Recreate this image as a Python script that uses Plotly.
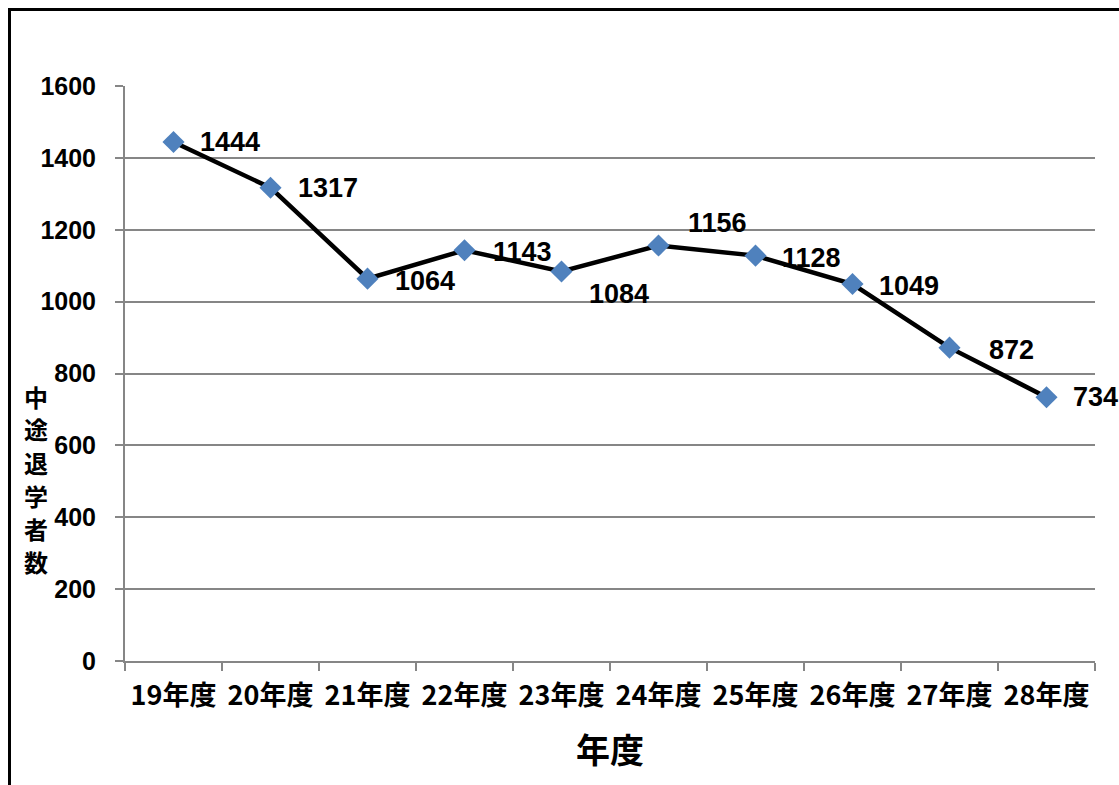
import plotly.graph_objects as go

categories = ["19年度", "20年度", "21年度", "22年度", "23年度", "24年度", "25年度", "26年度", "27年度", "28年度"]
values = [1444, 1317, 1064, 1143, 1084, 1156, 1128, 1049, 872, 734]
y_ticks = [0, 200, 400, 600, 800, 1000, 1200, 1400, 1600]
x_title = "年度"
y_title = "中途退学者数"

# label offsets (px) relative to each point
label_dx = [24, 25, 25, 26, 25, 27, 24, 24, 37, 24]
label_dy = [0, 0, -2, -2, -23, 23, -2, -2, -2, 0]

W, H = 1119, 785
ml, mt = 125, 86
mr = W - 1095
mb = H - 661
pw, ph = W - ml - mr, H - mt - mb


def px(xa):
    return (xa - ml) / pw


def py(ya):
    return (H - mb - ya) / ph


fig = go.Figure()
fig.add_trace(go.Scatter(
    x=categories, y=values, mode="lines+markers",
    line=dict(color="black", width=4.5),
    marker=dict(symbol="diamond", size=17, color="#4F81BD", line=dict(width=0)),
    showlegend=False, hoverinfo="skip",
))

for c, v, dx, dy in zip(categories, values, label_dx, label_dy):
    fig.add_annotation(x=c, y=v, text=str(v), showarrow=False, xanchor="left",
                       yanchor="middle", xshift=dx, yshift=dy,
                       font=dict(family="Liberation Sans", size=27, color="black", weight="bold"))

for i, ch in enumerate(y_title):
    fig.add_annotation(xref="paper", yref="paper", x=px(36), y=py(396 + i * 33),
                       text=ch, showarrow=False, xanchor="center", yanchor="middle",
                       font=dict(family="Noto Sans CJK JP", size=24, color="black", weight="bold"))
fig.add_annotation(xref="paper", yref="paper", x=px(610), y=py(748),
                   text=x_title, showarrow=False, xanchor="center", yanchor="middle",
                   font=dict(family="Noto Sans CJK JP", size=34, color="black", weight="bold"))

# outer frame (left and top)
fig.add_shape(type="line", xref="paper", yref="paper",
              x0=px(9.5), x1=px(9.5), y0=py(800), y1=py(9.5),
              line=dict(color="black", width=3))
fig.add_shape(type="line", xref="paper", yref="paper",
              x0=px(8), x1=px(1130), y0=py(9.5), y1=py(9.5),
              line=dict(color="black", width=3))

fig.update_xaxes(
    type="category", showgrid=False, showline=True, linecolor="#868686", linewidth=2,
    ticks="outside", tickson="boundaries", ticklen=8, tickcolor="#868686", tickwidth=2,
    tickfont=dict(family="Noto Sans CJK JP", size=27, color="black", weight="bold"),
    ticklabelstandoff=10,
    range=[-0.5, 9.5],
)
fig.update_yaxes(
    range=[0, 1600], tickvals=y_ticks, showgrid=True, gridcolor="#868686", gridwidth=2,
    showline=True, linecolor="#868686", linewidth=2, ticks="outside", ticklen=8,
    tickcolor="#868686", tickwidth=2, zeroline=False, ticklabelstandoff=14,
    tickfont=dict(family="Liberation Sans", size=25, color="black", weight="bold"),
)
fig.update_layout(
    width=W, height=H, margin=dict(l=ml, r=mr, t=mt, b=mb, autoexpand=False),
    plot_bgcolor="white", paper_bgcolor="white",
)
fig.write_html("out.html", config={"displayModeBar": False},
               post_script="document.body.style.margin='0';document.body.style.overflow='hidden';")
